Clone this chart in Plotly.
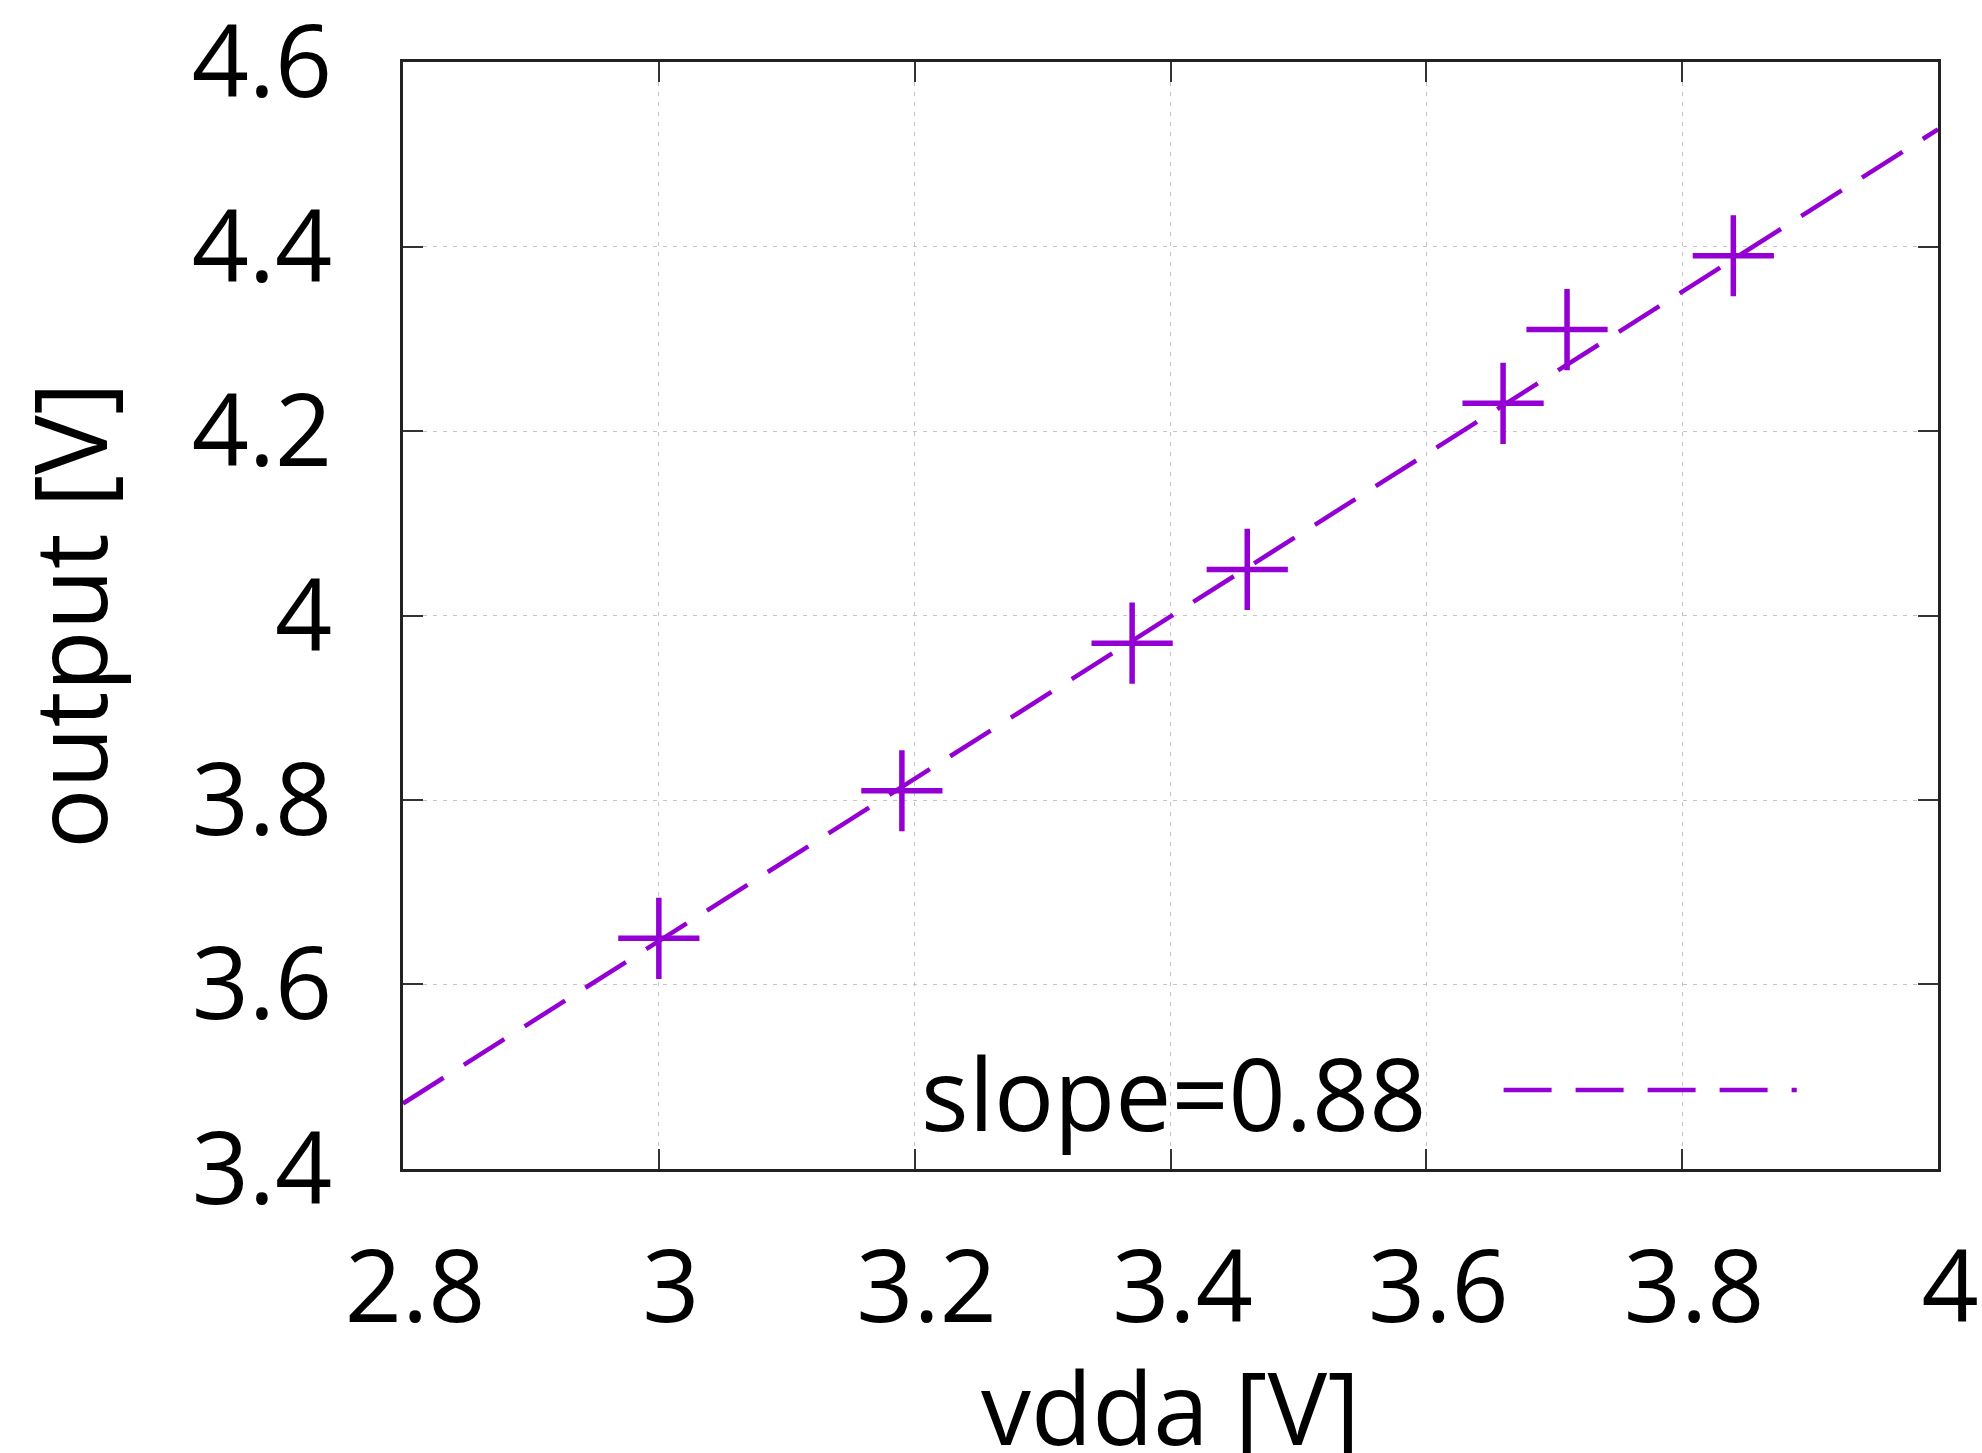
import plotly.graph_objects as go

# measured data
vdda = [3.00, 3.19, 3.37, 3.46, 3.66, 3.71, 3.84]
output = [3.65, 3.81, 3.97, 4.05, 4.23, 4.31, 4.39]

# linear fit line (at the axis ends)
fit_x = [2.8, 4.0]
fit_y = [3.471, 4.527]
fit_label = "slope=0.88"

x_ticks = [2.8, 3.0, 3.2, 3.4, 3.6, 3.8, 4.0]
x_tick_text = ["2.8", "3", "3.2", "3.4", "3.6", "3.8", "4"]
y_ticks = [3.4, 3.6, 3.8, 4.0, 4.2, 4.4, 4.6]
y_tick_text = ["3.4", "3.6", "3.8", "4", "4.2", "4.4", "4.6"]
x_title = "vdda [V]"
y_title = "output [V]"

PURPLE = "#9400D3"
FONT = "Open Sans"
FS = 100

fig = go.Figure()
fig.add_trace(go.Scatter(
    x=fit_x, y=fit_y, mode="lines", name=fit_label,
    line=dict(color=PURPLE, width=4.5, dash="48px,24px"),
    showlegend=False, hoverinfo="skip",
))
fig.add_trace(go.Scatter(
    x=vdda, y=output, mode="markers", name="data",
    marker=dict(symbol="cross-thin", size=58, color=PURPLE,
                line=dict(color=PURPLE, width=5.5)),
    showlegend=False,
))

axis_common = dict(
    showline=True, linecolor="#222222", linewidth=2.5, mirror="ticks",
    ticks="inside", ticklen=20, tickwidth=1.5, tickcolor="#333333",
    showgrid=True, gridcolor="#c4c4c4", gridwidth=1, griddash="4px,6px",
    zeroline=False, ticklabeloverflow="allow",
    tickfont=dict(family=FONT, size=FS, color="black"),
)

fig.update_layout(
    width=1982, height=1453,
    margin=dict(l=403, r=44, t=62, b=284),
    paper_bgcolor="white", plot_bgcolor="white",
    font=dict(family=FONT, size=FS, color="black"),
    xaxis=dict(range=[2.79999, 4.00001], tickvals=x_ticks, ticktext=x_tick_text,
               ticklabelstandoff=30, ticklabelshift=12,
               automargin=False, **axis_common),
    yaxis=dict(range=[3.39999, 4.60001], tickvals=y_ticks, ticktext=y_tick_text,
               ticklabelstandoff=48,
               title=dict(text=y_title, standoff=60,
                          font=dict(family=FONT, size=FS)),
               automargin=False, **axis_common),
    showlegend=False,
)

# x-axis title placed low like the reference (partly cut at the bottom)
fig.add_annotation(
    xref="paper", yref="paper", x=0.5, y=-0.214,
    xanchor="center", yanchor="middle", showarrow=False,
    text=x_title, font=dict(family=FONT, size=FS, color="black"),
)

# gnuplot-style key: text on the left, line sample on the right
fig.add_annotation(
    xref="paper", yref="paper", x=0.668, y=0.0696,
    xanchor="right", yanchor="middle", showarrow=False,
    text=fit_label, font=dict(family=FONT, size=FS, color="black"),
)
fig.add_shape(
    type="line", xref="paper", yref="paper",
    x0=0.717, x1=0.908, y0=0.0714, y1=0.0714,
    line=dict(color=PURPLE, width=4.5, dash="48px,24px"),
)

fig.write_html("out.html")
